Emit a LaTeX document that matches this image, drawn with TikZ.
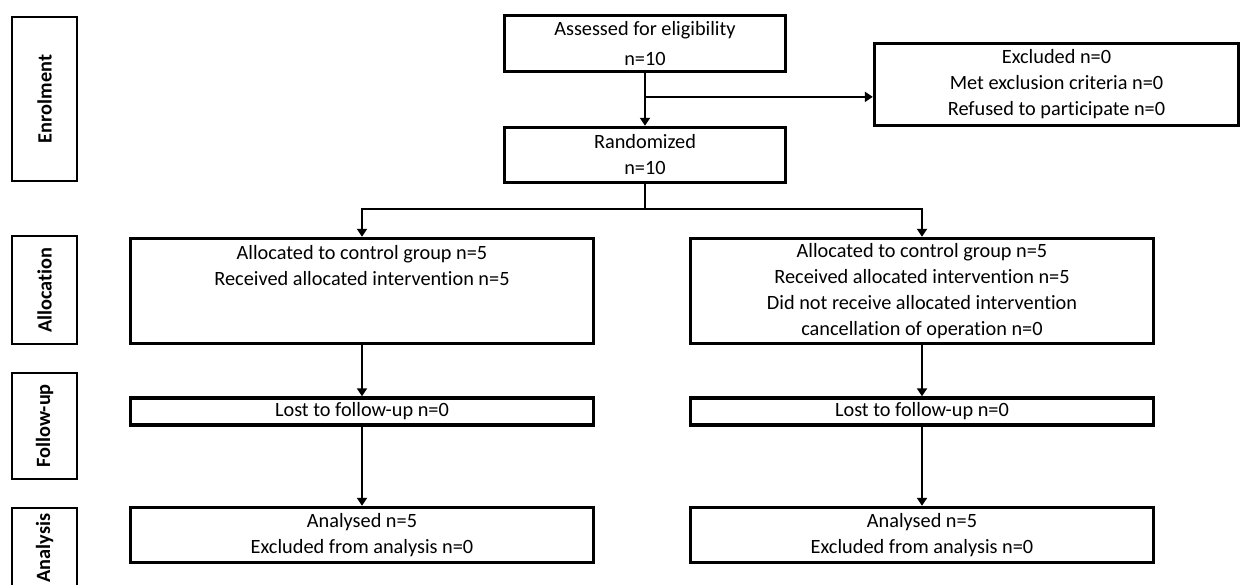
\documentclass[tikz,border=0pt]{standalone}
\usepackage{fontspec}
\setmainfont[Ligatures=NoCommon]{Carlito}
\usetikzlibrary{arrows.meta,calc}

\begin{document}
\begin{tikzpicture}
    [x=1pt, y=-1pt,
    box/.style={draw, line width=3.4pt, align=center,
        font=\fontsize{20.3}{26}\selectfont, inner sep=0pt},
    stage/.style={draw, line width=2.2pt, minimum width=65pt,
        inner sep=0pt},
    stagetext/.style={rotate=90, font=\bfseries\fontsize{20.3}{24}\selectfont},
    flow/.style={line width=2.2pt, -{Triangle[length=8pt,width=10pt]}}
    ]
    \useasboundingbox (0,0) rectangle (1248,585);
    \clip (0,0) rectangle (1248,585);

    % stages on the left
    \node (enrol) [stage, minimum height=164pt] at (44.5,99) {};
    \node (enroltext) [stagetext] at (enrol) {Enrolment};
    \node (alloc) [stage, minimum height=108pt] at (44.5,290) {};
    \node (alloctext) [stagetext] at (alloc) {Allocation};
    \node (follow) [stage, minimum height=106pt] at (44.5,426) {};
    \node (followtext) [stagetext] at (follow) {Follow-up};
    \node (analysis) [stage, minimum height=80pt] at (44.5,548) {};
    \node (analysistext) [stagetext] at (analysis) {Analysis};

    % boxes
    \node (assess) [box, minimum width=281pt, minimum height=56pt] at (645,43.5)
        {Assessed for eligibility\\[4pt]n=10};
    \node (rand) [box, minimum width=281pt, minimum height=55pt] at (645,155)
        {Randomized\\n=10};
    \node (excl) [box, minimum width=364pt, minimum height=82pt] at (1056.5,84.5)
        {Excluded n=0\\Met exclusion criteria n=0\\Refused to participate n=0};
    \node (allocL) [box, minimum width=463pt, minimum height=105pt] at (362,291)
        {Allocated to control group n=5\\Received allocated intervention n=5\\\mbox{}\\\mbox{}};
    \node (allocR) [box, minimum width=463pt, minimum height=105pt] at (922,291)
        {Allocated to control group n=5\\Received allocated intervention n=5\\
         Did not receive allocated intervention\\cancellation of operation n=0};
    \node (followL) [box, minimum width=463pt, minimum height=27pt] at (362,411.5)
        {Lost to follow-up n=0};
    \node (followR) [box, minimum width=463pt, minimum height=27pt] at (922,411.5)
        {Lost to follow-up n=0};
    \node (anaL) [box, minimum width=463pt, minimum height=55pt] at (362,535)
        {Analysed n=5\\Excluded from analysis n=0};
    \node (anaR) [box, minimum width=463pt, minimum height=55pt] at (922,535)
        {Analysed n=5\\Excluded from analysis n=0};

    % connectors
    \coordinate (split) at ($(assess.south)!0.45!(rand.north)$);
    \draw [flow] (assess.south) -- (rand.north);
    \draw [flow] (split) -- (split -| excl.west);
    \draw [flow] (rand.south) -- ++(0,25) -| (allocL.north);
    \draw [flow] (rand.south) -- ++(0,25) -| (allocR.north);
    \draw [flow] (allocL) -- (followL);
    \draw [flow] (allocR) -- (followR);
    \draw [flow] (followL) -- (anaL);
    \draw [flow] (followR) -- (anaR);
\end{tikzpicture}
\end{document}
